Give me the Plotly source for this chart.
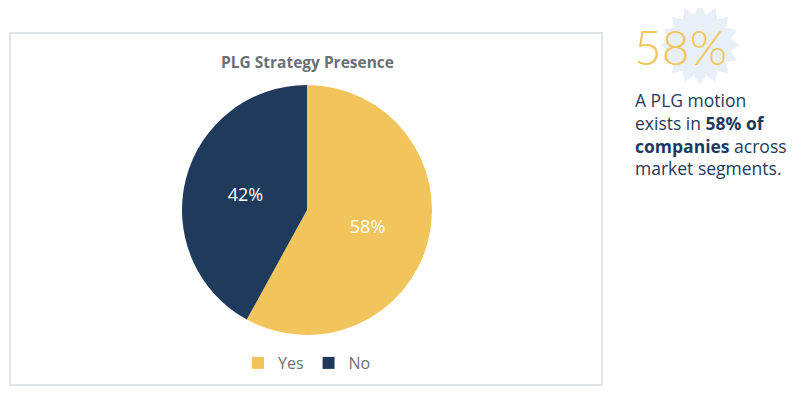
import math
import plotly.graph_objects as go

# Data
categories = ["Yes", "No"]
values = [58, 42]
colors = ["#F2C55C", "#1F3A5B"]
title_text = "PLG Strategy Presence"
headline = "58%"
body_lines = ["A PLG motion", "exists in <b>58% of</b>", "<b>companies</b> across", "market segments."]

# page has an 8px body margin; size the figure to fit the window
OFF = 8
W, H = 792, 387

def px(x):
    return (x - OFF) / W

def py(y):
    return 1 - (y - OFF) / H

fig = go.Figure()
fig.add_trace(go.Pie(
    labels=categories,
    values=values,
    marker=dict(colors=colors, line=dict(width=0)),
    sort=False,
    direction="clockwise",
    rotation=0,
    textinfo="percent",
    textposition="inside",
    insidetextfont=dict(color="white", size=18, family="Open Sans"),
    domain=dict(x=[px(182), px(432)], y=[py(335), py(85)]),
    hoverinfo="label+percent",
))

# starburst decoration behind the headline
cx, cy, r_out, r_in, n = 700, 45, 40, 31, 16
pts = []
for i in range(2 * n):
    a = math.pi * i / n
    r = r_out if i % 2 == 0 else r_in
    pts.append((px(cx + r * math.sin(a)), py(cy - r * math.cos(a))))
path = "M " + " L ".join(f"{x:.5f},{y:.5f}" for x, y in pts) + " Z"

fig.update_layout(
    width=W, height=H,
    margin=dict(l=0, r=0, t=0, b=0),
    paper_bgcolor="white",
    plot_bgcolor="white",
    font=dict(family="Open Sans", color="#6B7075"),
    showlegend=True,
    legend=dict(
        orientation="h",
        x=px(307), y=py(363), xanchor="center", yanchor="middle",
        font=dict(size=16, color="#6B7075"),
        itemwidth=30,
        traceorder="normal",
    ),
    shapes=[
        dict(type="rect", xref="paper", yref="paper",
             x0=px(10), x1=px(602), y0=py(385), y1=py(33),
             line=dict(color="#E1E5EA", width=2), fillcolor="rgba(0,0,0,0)", layer="below"),
        dict(type="path", xref="paper", yref="paper", path=path,
             fillcolor="#E9EFF6", line=dict(width=0), layer="below"),
    ],
    annotations=[
        dict(text=f"<b>{title_text}</b>", x=px(307), y=py(62), xref="paper", yref="paper",
             showarrow=False, xanchor="center", yanchor="middle",
             font=dict(size=15.5, color="#6B7075", family="Open Sans")),
        dict(text=headline, x=px(632), y=py(47), xref="paper", yref="paper",
             showarrow=False, xanchor="left", yanchor="middle",
             font=dict(size=48, color="#F2C55C", family="Lato, Open Sans", weight=300)),
        dict(text="<br>".join(body_lines), x=px(633), y=py(134), xref="paper", yref="paper",
             showarrow=False, xanchor="left", yanchor="middle", align="left",
             font=dict(size=17.5, color="#1F3A5B", family="Open Sans")),
    ],
)

fig.write_html("out.html")
